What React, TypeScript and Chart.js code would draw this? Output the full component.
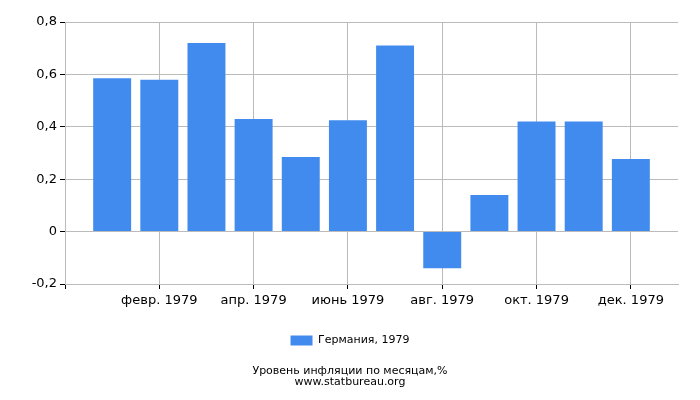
import React, { useEffect, useRef } from "react";
import { Chart, registerables } from "chart.js";

Chart.register(...registerables);

// months of 1979, one bar each
const monthLabels = [
    "янв. 1979",
    "февр. 1979",
    "март 1979",
    "апр. 1979",
    "май 1979",
    "июнь 1979",
    "июль 1979",
    "авг. 1979",
    "сент. 1979",
    "окт. 1979",
    "нояб. 1979",
    "дек. 1979",
];
const inflation = [0.585, 0.58, 0.72, 0.43, 0.285, 0.425, 0.71, -0.14, 0.14, 0.42, 0.42, 0.277];
// only every second month gets a label / grid line
const xTickValues = [-1, 1, 3, 5, 7, 9, 11];
const yTicks = [-0.2, 0, 0.2, 0.4, 0.6, 0.8];

const seriesName = "Германия, 1979";
const titleLines = ["Уровень инфляции по месяцам,%", "www.statbureau.org"];

const FONT = "'DejaVu Sans', Verdana, sans-serif";

export default function App() {
    const canvasRef = useRef<HTMLCanvasElement | null>(null);
    const chartRef = useRef<Chart | null>(null);

    useEffect(() => {
        document.body.style.margin = "0";
        if (!canvasRef.current) return;
        const ctx = canvasRef.current.getContext("2d");
        if (!ctx) return;

        if (chartRef.current) {
            chartRef.current.destroy();
        }

        chartRef.current = new Chart(ctx, {
            type: "bar",
            data: {
                datasets: [
                    {
                        label: seriesName,
                        data: inflation.map((v, i) => ({ x: i, y: v })),
                        backgroundColor: "#428bee",
                        borderWidth: 0,
                        barPercentage: 1,
                        categoryPercentage: 0.805,
                    },
                ],
            },
            options: {
                animation: false,
                responsive: true,
                maintainAspectRatio: false,
                // symmetric side padding keeps legend and title centred on the page
                layout: {
                    padding: { left: 22, right: 22, top: 22, bottom: 12 },
                },
                plugins: {
                    legend: {
                        position: "bottom",
                        labels: {
                            font: { family: FONT, size: 11 },
                            color: "#000",
                            boxWidth: 22,
                            boxHeight: 10,
                            padding: 10,
                        },
                    },
                    title: {
                        display: true,
                        position: "bottom",
                        text: titleLines,
                        color: "#000",
                        font: { family: FONT, size: 11, weight: "normal", lineHeight: 1.0 },
                        padding: { top: 10, bottom: 0 },
                    },
                    tooltip: { enabled: false },
                },
                scales: {
                    x: {
                        type: "linear",
                        min: -1,
                        max: 12,
                        offset: false,
                        afterBuildTicks: (scale: any) => {
                            scale.ticks = xTickValues.map((v) => ({ value: v }));
                        },
                        afterFit: (scale: any) => {
                            scale.height = 41;
                        },
                        ticks: {
                            autoSkip: false,
                            maxRotation: 0,
                            font: { family: FONT, size: 13 },
                            color: "#000",
                            padding: 4,
                            callback: (v: any) => monthLabels[v] ?? "",
                        },
                        grid: {
                            offset: false,
                            color: "#bbbbbb",
                            tickColor: "#000",
                            tickLength: 5,
                        },
                        border: { color: "#bbbbbb" },
                    },
                    y: {
                        min: -0.2,
                        max: 0.8,
                        afterBuildTicks: (scale: any) => {
                            scale.ticks = yTicks.map((v) => ({ value: v }));
                        },
                        afterFit: (scale: any) => {
                            scale.width = 43;
                        },
                        ticks: {
                            font: { family: FONT, size: 13 },
                            color: "#000",
                            padding: 3,
                            callback: (v: any) =>
                                Math.abs(v) < 1e-9 ? "0" : Number(v).toFixed(1).replace(".", ","),
                        },
                        grid: {
                            color: "#bbbbbb",
                            tickColor: "#000",
                            tickLength: 5,
                        },
                        border: { color: "#bbbbbb" },
                    },
                },
            },
        });

        return () => {
            chartRef.current?.destroy();
            chartRef.current = null;
        };
    }, []);

    return (
        <div style={{ position: "relative", width: 700, height: 400, background: "#fff" }}>
            <canvas ref={canvasRef}></canvas>
        </div>
    );
}
